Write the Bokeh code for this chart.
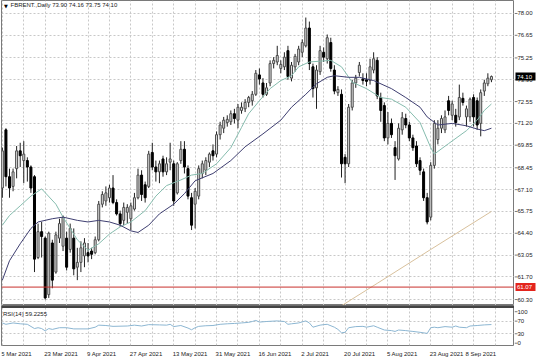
from bokeh.plotting import figure
from bokeh.layouts import column, row
from bokeh.models import (ColumnDataSource, FixedTicker, Range1d, Label, BoxAnnotation,
                          Span, Spacer)
from bokeh.embed import file_html
from bokeh.resources import INLINE
from bokeh.core.properties import value

# ---------------- data ----------------
symbol = "FBRENT.,Daily"

opens = [67.2, 70.8, 67.9, 67.3, 68.4, 69.5, 68.9, 68.9, 68.5, 67.9,
         62.9, 64.5, 64.1, 60.6, 63.8, 62.0, 64.1, 63.6, 64.1, 63.4,
         64.1, 62.3, 62.6, 63.0, 63.2, 63.3, 63.2, 64.0, 66.2, 66.4,
         66.6, 67.2, 66.3, 65.6, 65.2, 65.7, 65.3, 65.9, 66.6, 68.0,
         67.4, 67.3, 69.4, 68.5, 68.2, 69.0, 68.2, 68.8, 68.7, 66.9,
         68.9, 69.6, 68.4, 66.6, 66.2, 66.7, 68.1, 68.3, 68.8, 69.5,
         69.3, 70.5, 70.9, 71.25, 71.3, 71.8, 71.4, 72.0, 72.1, 72.5,
         72.6, 73.0, 74.2, 73.7, 73.0, 73.7, 74.9, 75.0, 74.6, 74.7,
         75.7, 74.0, 74.7, 75.0, 75.6, 76.0, 77.1, 74.7, 73.4, 74.4,
         75.6, 75.2, 76.2, 74.5, 73.1, 73.0, 69.1, 68.7, 72.2, 73.7,
         74.35, 73.95, 73.9, 73.85, 74.5, 75.1, 72.8, 72.3, 70.3, 71.2,
         69.7, 69.0, 70.8, 71.5, 71.1, 70.3, 69.8, 68.9, 68.2, 66.6,
         65.4, 68.6, 70.2, 70.9, 70.8, 72.6, 71.7, 71.7, 71.6, 72.75,
         71.6, 71.6, 72.8, 72.6, 71.2, 73.2, 73.65, 73.90]
highs = [69.7, 70.9, 68.4, 68.4, 69.8, 70.0, 70.1, 69.1, 68.6, 68.0,
         65.0, 65.1, 64.2, 64.5, 64.0, 64.5, 65.3, 65.5, 64.5, 65.0,
         64.7, 63.5, 63.9, 64.1, 63.8, 63.5, 64.2, 66.4, 67.0, 67.3,
         67.4, 68.0, 66.5, 65.8, 66.3, 66.2, 66.3, 66.9, 68.4, 68.3,
         67.6, 69.5, 70.0, 68.9, 68.9, 69.2, 69.1, 70.0, 68.9, 68.8,
         70.1, 70.1, 68.6, 66.9, 67.2, 68.6, 68.9, 69.1, 69.4, 69.9,
         70.7, 71.3, 71.6, 71.7, 72.0, 72.1, 72.4, 72.5, 72.7, 72.9,
         73.2, 74.5, 74.6, 74.0, 73.7, 75.1, 75.3, 76.0, 75.1, 75.6,
         76.0, 75.0, 75.5, 76.0, 76.4, 77.75, 77.5, 74.9, 74.8, 76.0,
         75.9, 76.7, 76.5, 74.8, 73.5, 73.3, 69.3, 72.4, 73.9, 74.2,
         75.0, 74.3, 74.3, 75.2, 75.6, 75.3, 73.1, 72.5, 71.9, 71.5,
         70.1, 71.2, 71.9, 71.8, 71.3, 70.5, 70.1, 69.1, 68.4, 66.9,
         68.8, 71.4, 71.4, 71.7, 72.0, 72.9, 72.6, 72.1, 73.6, 73.1,
         72.3, 72.8, 73.0, 72.8, 73.3, 73.9, 74.3, 74.16]
lows = [66.6, 67.3, 66.6, 67.0, 67.8, 68.5, 67.5, 67.6, 66.9, 62.0,
        62.8, 62.9, 60.3, 60.4, 61.0, 61.9, 63.8, 63.3, 62.1, 63.2,
        61.8, 61.5, 62.0, 62.3, 62.6, 62.8, 63.1, 63.9, 66.0, 66.1,
        66.3, 66.2, 65.5, 64.8, 64.9, 65.0, 64.6, 65.8, 66.5, 66.4,
        66.3, 67.2, 68.3, 67.6, 67.5, 67.9, 68.0, 68.3, 66.1, 66.8,
        68.7, 68.1, 66.5, 64.6, 64.7, 66.5, 67.8, 68.0, 68.5, 68.9,
        69.1, 70.2, 70.6, 71.0, 71.1, 71.2, 70.9, 71.8, 71.9, 72.2,
        72.3, 72.9, 73.6, 72.8, 72.9, 73.5, 74.6, 74.8, 74.3, 74.5,
        73.9, 73.8, 74.4, 74.8, 75.3, 75.9, 74.5, 72.8, 72.1, 74.2,
        75.0, 74.9, 74.4, 73.0, 72.9, 67.85, 67.5, 68.5, 72.0, 73.4,
        74.1, 73.6, 73.5, 73.6, 74.3, 72.7, 71.3, 70.1, 69.9, 70.3,
        67.7, 68.9, 70.5, 70.9, 70.1, 69.5, 68.5, 68.0, 66.4, 64.95,
        65.2, 68.4, 69.9, 70.6, 70.6, 71.7, 71.4, 71.0, 71.4, 72.3,
        71.0, 71.3, 71.0, 70.8, 70.4, 72.9, 73.5, 73.75]
closes = [69.5, 67.9, 67.2, 68.2, 69.5, 69.2, 69.3, 68.5, 67.2, 62.8,
          64.5, 64.2, 60.4, 64.4, 61.5, 64.3, 65.0, 65.4, 62.3, 64.7,
          62.2, 62.6, 63.5, 63.8, 63.0, 63.1, 64.0, 66.2, 66.8, 66.9,
          67.2, 66.3, 65.6, 65.0, 66.0, 66.0, 66.1, 66.6, 68.0, 66.8,
          66.6, 69.3, 68.5, 68.2, 68.7, 68.2, 68.7, 69.0, 66.4, 68.7,
          69.6, 68.5, 66.7, 64.9, 67.0, 68.4, 68.7, 68.9, 69.3, 69.2,
          70.5, 71.1, 71.4, 71.45, 71.8, 71.5, 72.2, 72.2, 72.5, 72.8,
          73.0, 74.3, 73.95, 73.0, 73.4, 74.9, 75.1, 75.4, 74.85, 75.3,
          74.1, 74.8, 75.35, 75.8, 76.2, 77.1, 74.9, 73.35, 74.5, 75.7,
          75.3, 76.5, 74.6, 73.2, 73.3, 68.7, 68.7, 72.2, 73.7, 74.0,
          74.8, 73.85, 73.8, 74.7, 75.2, 72.9, 72.0, 70.3, 71.2, 70.5,
          69.2, 70.9, 71.55, 71.1, 70.3, 69.7, 68.7, 68.3, 66.6, 65.1,
          68.6, 71.2, 70.9, 71.5, 71.6, 72.0, 72.4, 71.25, 72.8, 72.5,
          72.1, 72.7, 71.6, 71.1, 73.1, 73.7, 74.0, 74.10]

fast_ma_bars = [0, 2, 5, 8, 11, 15, 17, 21, 24, 27, 30, 33, 36, 40, 43, 46, 50, 53, 56,
                60, 64, 67, 69, 72, 75, 78, 81, 83, 86, 92, 95, 98, 102, 106, 109, 113,
                117, 120, 121, 125, 130, 133, 135, 137]
fast_ma_vals = [64.9, 65.5, 66.1, 66.7, 67.15, 66.2, 65.4, 64.0, 63.35, 63.75, 64.35, 64.8,
                65.1, 65.8, 66.7, 67.35, 67.7, 68.0, 68.1, 68.7, 69.7, 70.95, 71.8, 72.6,
                73.35, 73.85, 74.15, 74.7, 75.0, 75.1, 74.7, 73.75, 73.35, 72.8, 72.7,
                72.2, 71.25, 69.7, 69.3, 69.95, 70.75, 71.4, 72.0, 72.4]
slow_ma_bars = [0, 2, 5, 8, 10, 14, 17, 21, 24, 27, 30, 33, 36, 38, 41, 44, 48, 51, 54, 59,
                64, 68, 73, 78, 81, 85, 88, 91, 93, 97, 100, 104, 109, 113, 117, 119, 122,
                126, 130, 133, 135, 137]
slow_ma_vals = [61.5, 62.7, 63.75, 64.7, 65.1, 65.3, 65.4, 65.2, 65.1, 65.2, 65.1, 64.9,
                64.55, 64.45, 64.9, 65.6, 66.2, 66.85, 67.65, 68.1, 68.9, 69.75, 70.55, 71.4,
                72.2, 73.0, 73.65, 74.05, 74.15, 74.05, 74.05, 73.85, 73.35, 72.8, 72.2,
                71.6, 71.1, 71.2, 71.05, 70.85, 70.75, 70.9]
long_ma_bars = [92, 105, 120, 137]
long_ma_vals = [59.5, 61.3, 63.4, 65.75]

rsi_bars = [0, 1, 3, 5, 7, 9, 10, 11, 12, 13, 14, 16, 18, 20, 24, 26, 27, 29, 31, 35, 37,
            39, 41, 44, 46, 47, 48, 50, 52, 53, 54, 55, 57, 59, 61, 63, 65, 67, 69, 70,
            71, 72, 74, 77, 79, 80, 81, 83, 85, 86, 87, 89, 90, 91, 93, 94, 95, 96, 97,
            99, 101, 102, 104, 105, 107, 109, 110, 111, 113, 115, 117, 119, 120, 121,
            122, 124, 126, 127, 128, 130, 131, 133, 135, 137]
rsi_vals = [64.3, 60.0, 64.3, 61.6, 60.0, 46.5, 49.2, 46.5, 39.2, 46.5, 43.8, 49.2, 49.2,
            45.4, 45.4, 50.8, 57.3, 56.2, 53.5, 54.6, 57.3, 54.6, 58.9, 58.1, 57.3, 60.0,
            52.7, 56.2, 48.1, 42.7, 49.2, 53.5, 55.4, 56.2, 60.0, 61.6, 62.7, 64.3, 66.2,
            68.9, 72.4, 67.0, 68.9, 70.8, 68.9, 60.0, 61.6, 64.3, 70.8, 64.3, 50.8, 57.3,
            58.9, 60.0, 50.8, 43.8, 33.0, 34.6, 49.2, 52.7, 53.5, 50.8, 55.4, 50.8, 41.9,
            40.0, 37.3, 41.9, 40.0, 37.3, 34.6, 31.1, 49.2, 50.8, 49.2, 52.7, 50.8, 54.6,
            50.8, 49.2, 54.6, 56.2, 58.1, 59.2]
rsi_current = 59.2255
rsi_levels = [30, 70]
rsi_ticks = [0, 30, 70, 100]

support_level = 61.07
price_ticks = [78.00, 76.65, 75.25, 73.90, 72.55, 71.20, 69.85, 68.45, 67.10,
               65.75, 64.40, 63.05, 61.70, 60.30]
date_labels = ["5 Mar 2021", "23 Mar 2021", "9 Apr 2021", "27 Apr 2021", "13 May 2021",
               "31 May 2021", "16 Jun 2021", "2 Jul 2021", "20 Jul 2021", "5 Aug 2021",
               "23 Aug 2021", "8 Sep 2021"]
date_label_bars = [0, 12, 24, 36, 48, 60, 72, 84, 96, 108, 120, 130]
grid_bars = list(range(0, 144, 6))

# ---------------- styling ----------------
FONT = "Liberation Sans"
FS = "6px"
TXT = "#1a1a1a"
GRID = "#c8c8c8"
BORDER = "#7a7a7a"
BULL_FILL, BULL_LINE = "#dedede", "#4a4a4a"
BEAR_FILL, BEAR_LINE = "#000000", "#000000"
SCALE_W = 22


def bare(fig):
    fig.background_fill_color = "white"
    fig.border_fill_color = "white"
    fig.xgrid.visible = False
    fig.ygrid.visible = False
    fig.outline_line_color = None


def dotted_grid(fig, yticks):
    fig.xgrid.ticker = FixedTicker(ticks=grid_bars)
    fig.ygrid.ticker = FixedTicker(ticks=yticks)
    for g in (fig.xgrid, fig.ygrid):
        g.grid_line_color = GRID
        g.grid_line_dash = "2 2"
        g.grid_line_width = 1


xr = Range1d(-0.24, 143.46)
yr = Range1d(59.931, 78.804)

# ---------------- main price panel ----------------
p = figure(width=514, height=305, x_range=xr, y_range=yr,
           x_axis_location=None, y_axis_location=None,
           output_backend="svg", toolbar_location=None,
           min_border_left=1, min_border_right=0, min_border_top=0, min_border_bottom=0)
p.outline_line_color = BORDER
p.background_fill_color = "white"
p.border_fill_color = "white"
dotted_grid(p, price_ticks)

idx = list(range(len(closes)))
up = [c >= o for o, c in zip(opens, closes)]
src = ColumnDataSource(dict(
    x=idx, o=opens, h=highs, l=lows, c=closes,
    top=[max(o, c) for o, c in zip(opens, closes)],
    bottom=[min(o, c) for o, c in zip(opens, closes)],
    fill=[BULL_FILL if u else BEAR_FILL for u in up],
    line=[BULL_LINE if u else BEAR_LINE for u in up],
))
p.segment(x0="x", y0="l", x1="x", y1="h", source=src, line_color="#202020", line_width=1)
p.vbar(x="x", width=0.56, top="top", bottom="bottom", fill_color="fill",
       line_color="line", line_width=1, source=src)

p.line(long_ma_bars, long_ma_vals, line_color="#d8c09c", line_width=1)
p.line(fast_ma_bars, fast_ma_vals, line_color="#86bcae", line_width=1)
p.line(slow_ma_bars, slow_ma_vals, line_color="#3e3e70", line_width=1)
p.add_layout(Span(location=support_level, dimension="width",
                  line_color="#c8302c", line_width=1))

px_per_bar = 513 / (xr.end - xr.start)
px_per_price = 305 / (yr.end - yr.start)
p.add_layout(Label(x=xr.start + 2.5 / px_per_bar, y=yr.end - 2.5 / px_per_price, text="\u25BC",
                   text_font="DejaVu Sans", text_font_size="5px", text_color="#000000",
                   text_baseline="top", text_align="left"))
p.add_layout(Label(x=xr.start + 9 / px_per_bar, y=yr.end - 1.5 / px_per_price,
                   text=f"{symbol} {opens[-1]:.2f} {highs[-1]:.2f} {lows[-1]:.2f} {closes[-1]:.2f}",
                   text_font=FONT, text_font_size=FS, text_color=TXT,
                   text_baseline="top", text_align="left"))

# ---------------- price scale (right) ----------------
ps = figure(width=SCALE_W, height=305, x_range=Range1d(0, SCALE_W), y_range=yr,
            x_axis_location=None, y_axis_location=None,
            output_backend="svg", toolbar_location=None, min_border=0)
bare(ps)
n = len(price_ticks)
ps.segment(x0=[0] * n, y0=price_ticks, x1=[3] * n, y1=price_ticks, line_color=BORDER)
ps.text(x=[3] * n, y=price_ticks, text=[f"{v:.2f}" for v in price_ticks],
        text_font=value(FONT), text_font_size=FS, text_color=TXT,
        text_align="left", text_baseline="middle")
box_y = [closes[-1], support_level]
ps.rect(x=[11] * 2, y=box_y, width=[20] * 2, height=[8] * 2, height_units="screen",
        fill_color=["#000000", "#e3241c"], line_color=None)
ps.text(x=[2.5] * 2, y=box_y, text=[f"{v:.2f}" for v in box_y],
        text_font=value(FONT), text_font_size=FS, text_color="white",
        text_align="left", text_baseline="middle")

# ---------------- RSI panel ----------------
rsi_lo, rsi_hi = -7.3, 119.7
rr = Range1d(rsi_lo, rsi_hi)
r = figure(width=514, height=41, x_range=xr, y_range=rr,
           x_axis_location=None, y_axis_location=None,
           output_backend="svg", toolbar_location=None,
           min_border_left=1, min_border_right=0, min_border_top=0, min_border_bottom=1)
r.outline_line_color = BORDER
r.background_fill_color = "white"
r.border_fill_color = "white"
dotted_grid(r, rsi_levels)
rsi_px = 40 / (rsi_hi - rsi_lo)
r.add_layout(BoxAnnotation(bottom=rsi_hi - 2.5 / rsi_px, fill_color="#444444",
                           fill_alpha=1.0, line_color=None))
r.line(rsi_bars, rsi_vals, line_color="#8cb6d2", line_width=1)
r.add_layout(Label(x=xr.start + 1.5 / px_per_bar, y=rsi_hi - 5 / rsi_px,
                   text=f"RSI(14) {rsi_current:.4f}", text_font=FONT, text_font_size=FS,
                   text_color=TXT, text_baseline="top", text_align="left"))

rs = figure(width=SCALE_W, height=41, x_range=Range1d(0, SCALE_W), y_range=rr,
            x_axis_location=None, y_axis_location=None,
            output_backend="svg", toolbar_location=None,
            min_border_left=0, min_border_right=0, min_border_top=0, min_border_bottom=1)
bare(rs)
m = len(rsi_ticks)
rs.segment(x0=[0] * m, y0=rsi_ticks, x1=[3] * m, y1=rsi_ticks, line_color=BORDER)
rs.text(x=[3] * m, y=rsi_ticks, text=[str(v) for v in rsi_ticks],
        text_font=value(FONT), text_font_size=FS, text_color=TXT,
        text_align="left", text_baseline="middle")

# ---------------- date strip ----------------
d = figure(width=514, height=11, x_range=xr, y_range=Range1d(0, 11),
           x_axis_location=None, y_axis_location=None,
           output_backend="svg", toolbar_location=None,
           min_border_left=1, min_border_right=0, min_border_top=0, min_border_bottom=0)
bare(d)
d.text(x=date_label_bars, y=[5] * len(date_labels), text=date_labels, x_offset=-1,
       text_font=value(FONT), text_font_size=FS, text_color=TXT,
       text_align="left", text_baseline="middle")

layout = row(column(p, r, d, spacing=0),
             column(ps, rs, Spacer(width=SCALE_W, height=11), spacing=0),
             spacing=0)
open("out.html", "w").write(file_html(layout, INLINE))
